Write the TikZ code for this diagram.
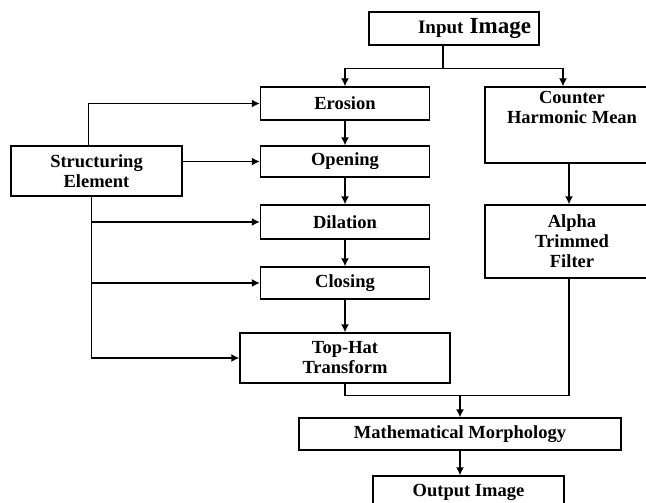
\documentclass[tikz,border=0pt]{standalone}
\usepackage{fontspec}
\setmainfont{Liberation Serif}
\usetikzlibrary{arrows.meta}
\tikzset{
    block/.style = {draw, rectangle, line width=1.4pt,
        minimum height=33pt,
        minimum width=169pt, align=center, inner sep=2pt,
        font=\fontsize{18.5}{20}\selectfont\bfseries},
    arrow/.style = {draw, -{Latex[length=8pt,width=8pt]}, line width=1.4pt},
    line/.style = {draw, line width=1.4pt}
}

\begin{document}
\begin{tikzpicture}[x=1pt, y=1pt, node distance=58pt]
        \useasboundingbox (0,0) rectangle (646,-503);
        \node [block, minimum width=170pt, text width=154pt, align=right] (input) at (454,-28.5) {{\fontsize{19}{20}\selectfont Input} {\fontsize{23}{24}\selectfont Image}};
        \node [block] (erosion) at (345,-103.5) {Erosion};
        \node [block, below of=erosion, minimum height=31pt] (opening) {Opening};
        \node [block, below of=opening, node distance=60.5pt, minimum height=34pt] (dilation) {Dilation};
        \node [block, below of=dilation, node distance=61pt, minimum height=32pt] (closing) {Closing};
        \node [block, below of=closing, node distance=75pt, minimum width=210pt, minimum height=50pt] (tophat) {Top-Hat\\Transform};
        \node [block, minimum width=171pt, minimum height=50pt] (strel) at (96.5,-171) {Structuring\\Element};
        \node [block, minimum width=174pt, minimum height=76pt] (chmean) at (572,-125) {Counter\\Harmonic Mean\\[10pt]\strut};
        \node [block, below of=chmean, node distance=116.5pt, minimum width=174pt, minimum height=73pt] (alpha) {Alpha\\Trimmed\\Filter};
        \node [block, minimum width=322pt, minimum height=32pt] (morph) at (460,-434) {Mathematical Morphology};
        \node [block, minimum width=191pt, minimum height=32pt] (output) at (468.5,-492) {Output Image};
        % input split
        \draw [line] ([xshift=-11pt]input.south) -- ++(0,-23) coordinate (split);
        \draw [arrow] (split) -| (erosion.north);
        \draw [arrow] (split) -| ([xshift=-9pt]chmean.north);
        % morphology chain
        \draw [arrow] (erosion) -- (opening);
        \draw [arrow] (opening) -- (dilation);
        \draw [arrow] (dilation) -- (closing);
        \draw [arrow] (closing) -- (tophat);
        % structuring element
        \draw [arrow] ([xshift=-8pt]strel.north) |- (erosion.west);
        \draw [arrow] (strel.east |- opening.west) -- (opening.west);
        \draw [arrow] ([xshift=-5pt]strel.south) coordinate (sebot) |- (tophat.west);
        \draw [arrow] (sebot |- dilation.west) -- (dilation.west);
        \draw [arrow] (sebot |- closing.west) -- (closing.west);
        % filters
        \draw [arrow] ([xshift=-3pt]chmean.south) -- ([xshift=-3pt]alpha.north);
        % merge
        \draw [line] (tophat.south) -- ++(0,-12) coordinate (join) -| ([xshift=-3pt]alpha.south);
        \draw [arrow] (join -| morph.north) -- (morph.north);
        \draw [arrow] (morph.south) -- (morph.south |- output.north);
\end{tikzpicture}
\end{document}
